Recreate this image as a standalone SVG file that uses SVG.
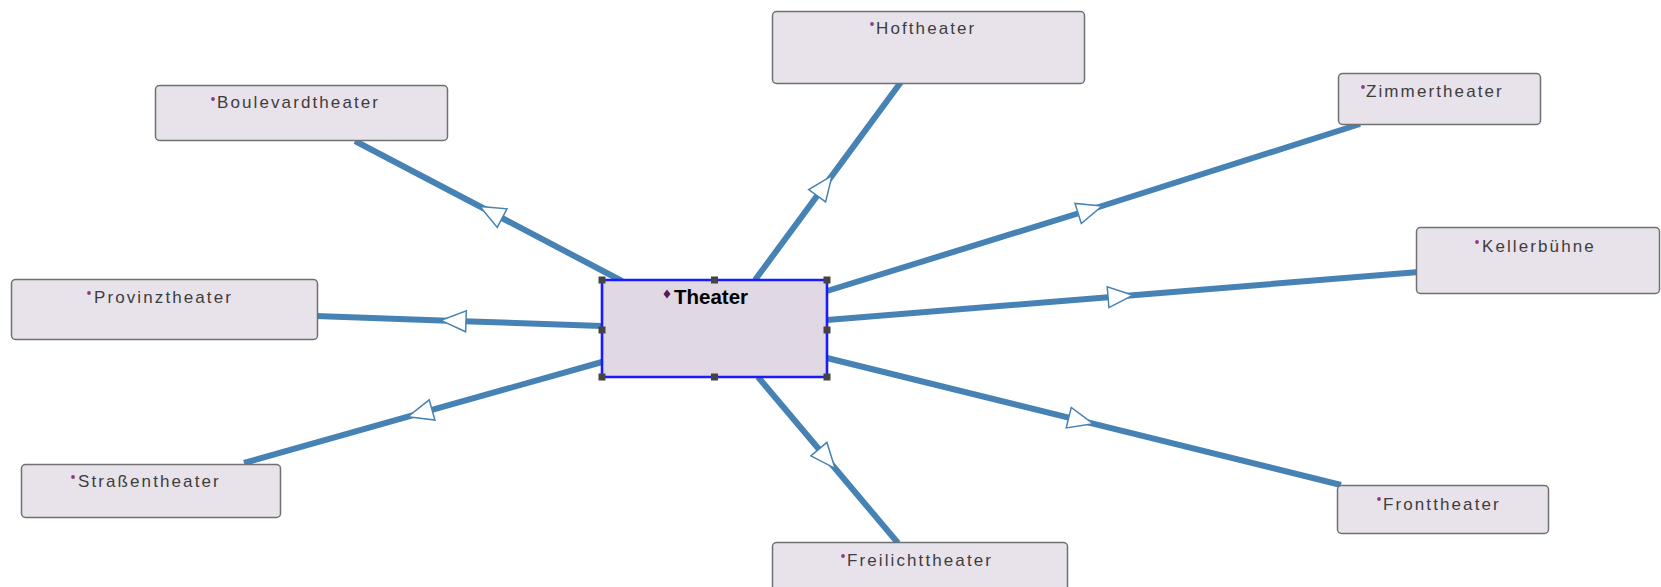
<svg xmlns="http://www.w3.org/2000/svg" width="1661" height="587" viewBox="0 0 1661 587">
  <style>
    .edge { fill: none; stroke: #4682b4; stroke-width: 6; marker-mid: url(#gen); }
    .node rect.box { fill: #e8e2ea; stroke: #707070; stroke-width: 1.5; }
    .label { font-family: "Liberation Sans", Arial, sans-serif; font-size: 17px; letter-spacing: 2.1px; fill: #3d3d3d; }
    .dot { fill: #8b3a8b; }
    .main rect.box { fill: #e0d8e2; stroke: #1a1aff; stroke-width: 2.6; }
    .main text { font-family: "Liberation Sans", Arial, sans-serif; font-size: 20.5px; font-weight: bold; fill: #000; }
    .handle { fill: #444; }
  </style>
  <defs>
    <!-- hollow generalization triangle, tip at the path vertex -->
    <marker id="gen" markerUnits="userSpaceOnUse" markerWidth="30" markerHeight="26" viewBox="-28 -13 30 26" refX="0" refY="0" orient="auto" overflow="visible">
      <path d="M0,0 L-25,-10.5 L-25,10.5 Z" fill="#ffffff" stroke="#4682b4" stroke-width="1.5" stroke-linejoin="miter"/>
    </marker>
  </defs>

  <g id="connectors">
    <path class="edge" d="M622,281 L480,206.5 L355,141"/>
    <path class="edge" d="M755,280 L832,175.6 L901,82"/>
    <path class="edge" d="M827,291 L1102,206 L1360,124"/>
    <path class="edge" d="M827,320 L1133,295.2 L1419,272"/>
    <path class="edge" d="M827,358 L1093,423.7 L1341,485"/>
    <path class="edge" d="M758,377 L835,468.3 L898,543"/>
    <path class="edge" d="M602,362 L408,416.7 L244,463"/>
    <path class="edge" d="M602,326 L441,320.4 L316,316"/>
  </g>

  <g id="boulevardtheater" class="node">
    <rect class="box" x="155.5" y="85.5" width="292" height="55" rx="4"/>
    <circle class="dot" cx="213" cy="99" r="1.9"/>
    <text class="label" x="217" y="108">Boulevardtheater</text>
  </g>

  <g id="hoftheater" class="node">
    <rect class="box" x="772.5" y="11.5" width="312" height="72" rx="4"/>
    <circle class="dot" cx="872" cy="24" r="1.9"/>
    <text class="label" x="876" y="34">Hoftheater</text>
  </g>

  <g id="zimmertheater" class="node">
    <rect class="box" x="1338.5" y="73.5" width="202" height="51" rx="4"/>
    <circle class="dot" cx="1363" cy="87" r="1.9"/>
    <text class="label" x="1366" y="97">Zimmertheater</text>
  </g>

  <g id="kellerbuehne" class="node">
    <rect class="box" x="1416.5" y="227.5" width="243" height="66" rx="4"/>
    <circle class="dot" cx="1477" cy="242" r="1.9"/>
    <text class="label" x="1482" y="252">Kellerbühne</text>
  </g>

  <g id="provinztheater" class="node">
    <rect class="box" x="11.5" y="279.5" width="306" height="60" rx="4"/>
    <circle class="dot" cx="89" cy="293" r="1.9"/>
    <text class="label" x="94" y="303">Provinztheater</text>
  </g>

  <g id="strassentheater" class="node">
    <rect class="box" x="21.5" y="464.5" width="259" height="53" rx="4"/>
    <circle class="dot" cx="73" cy="477" r="1.9"/>
    <text class="label" x="78" y="487">Straßentheater</text>
  </g>

  <g id="fronttheater" class="node">
    <rect class="box" x="1337.5" y="485.5" width="211" height="48" rx="4"/>
    <circle class="dot" cx="1379" cy="499" r="1.9"/>
    <text class="label" x="1383" y="510">Fronttheater</text>
  </g>

  <g id="freilichttheater" class="node">
    <rect class="box" x="772.5" y="542.5" width="295" height="60" rx="4"/>
    <circle class="dot" cx="843" cy="556" r="1.9"/>
    <text class="label" x="847" y="566">Freilichttheater</text>
  </g>

  <g id="theater" class="node main">
    <rect class="box" x="602" y="280" width="225" height="97" rx="2"/>
    <path d="M667,289.5 L670.5,294 L667,298.5 L663.5,294 Z" fill="#5a1a5a"/>
    <text x="674" y="304">Theater</text>
    <!-- selection handles -->
    <rect class="handle" x="598.5" y="276.5" width="7" height="7"/>
    <rect class="handle" x="711" y="276.5" width="7" height="7"/>
    <rect class="handle" x="823.5" y="276.5" width="7" height="7"/>
    <rect class="handle" x="598.5" y="326.5" width="7" height="7"/>
    <rect class="handle" x="823.5" y="326.5" width="7" height="7"/>
    <rect class="handle" x="598.5" y="373.5" width="7" height="7"/>
    <rect class="handle" x="711" y="373.5" width="7" height="7"/>
    <rect class="handle" x="823.5" y="373.5" width="7" height="7"/>
  </g>
</svg>
